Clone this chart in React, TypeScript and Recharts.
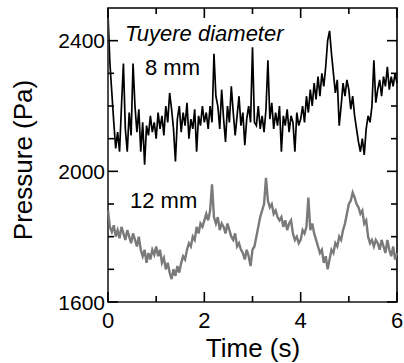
import React from 'react';
import { LineChart, Line, XAxis, YAxis, ReferenceArea } from 'recharts';

const STEP = 0.04;

// tuyere diameter 8 mm, pressure (Pa)
const p8mm = [
  2480, 2330, 2240, 2150, 2070, 2120, 2060, 2200, 2330, 2130,
  2060, 2180, 2110, 2330, 2200, 2120, 2190, 2060, 2150, 2020,
  2140, 2110, 2170, 2120, 2150, 2100, 2180, 2130, 2170, 2110,
  2200, 2150, 2240, 2190, 2130, 2030, 2160, 2200, 2120, 2180,
  2140, 2210, 2100, 2160, 2130, 2190, 2060, 2170, 2140, 2200,
  2150, 2180, 2130, 2200, 2150, 2360, 2230, 2200, 2130, 2250,
  2160, 2090, 2200, 2150, 2260, 2180, 2110, 2170, 2230, 2140,
  2180, 2080, 2160, 2200, 2150, 2380, 2150, 2140, 2200, 2130,
  2170, 2120, 2190, 2340, 2160, 2210, 2130, 2180, 2140, 2200,
  2060, 2170, 2140, 2190, 2120, 2170, 2150, 2060, 2180, 2140,
  2160, 2200, 2150, 2230, 2180, 2250, 2200, 2270, 2220, 2290,
  2230, 2300, 2260, 2320, 2400, 2430, 2360, 2300, 2240, 2280,
  2140, 2200, 2270, 2230, 2280, 2250, 2190, 2230, 2170, 2130,
  2090, 2060, 2100, 2050, 2130, 2170, 2150, 2200, 2340, 2210,
  2250, 2280, 2230, 2290, 2260, 2320, 2250, 2290, 2260, 2300,
  2270,
];

// tuyere diameter 12 mm, pressure (Pa)
const p12mm = [
  1880, 1830, 1815, 1835, 1800, 1820, 1795, 1830, 1810, 1790,
  1820, 1800, 1780, 1810, 1790, 1770, 1800, 1760, 1740, 1760,
  1720, 1750, 1730, 1760, 1745, 1770, 1740, 1760, 1720, 1735,
  1700, 1720, 1690, 1670, 1700, 1680, 1710, 1690, 1720, 1740,
  1730, 1760, 1780, 1770, 1800, 1790, 1830, 1810, 1840, 1830,
  1850, 1870, 1850, 1880, 1960, 1860, 1840, 1860, 1820, 1840,
  1830, 1810, 1840, 1820, 1800, 1790, 1810, 1770, 1780, 1760,
  1750, 1730, 1760, 1740, 1710, 1760, 1770, 1800, 1830, 1860,
  1880, 1900, 1980, 1910, 1890, 1900, 1870, 1880, 1860, 1850,
  1860, 1830, 1850, 1820, 1840, 1850, 1810, 1790, 1800, 1780,
  1790, 1820, 1810, 1830, 1920, 1820, 1840, 1810, 1790, 1770,
  1750, 1760, 1720, 1740, 1700, 1730, 1760, 1750, 1780, 1770,
  1800, 1790, 1820, 1840, 1870, 1900, 1910, 1935, 1920, 1900,
  1890, 1870, 1880, 1840, 1850, 1800, 1780, 1790, 1770, 1790,
  1780, 1760, 1790, 1770, 1750, 1790, 1760, 1740, 1770, 1730,
  1750,
];

const xTicks = [0, 1, 2, 3, 4, 5, 6];
const xLabels = [0, 2, 4, 6];
const yTicks = [1600, 1700, 1800, 1900, 2000, 2100, 2200, 2300, 2400];
const yLabels = [1600, 2000, 2400];

const data = p8mm.map((v, i) => ({ t: Number((i * STEP).toFixed(2)), d8: v, d12: p12mm[i] }));

// plot edges (margin top 8, right 7), used to mirror ticks onto the frame
const PLOT_TOP = 8;
const PLOT_RIGHT = 397;
// default tick margin recharts puts between axis line and tick position
const TM = 2;

const FONT = '"Liberation Sans", Arial, sans-serif';

function BottomTick(props: any) {
  const { x, y, payload } = props;
  const major = xLabels.includes(payload.value);
  const len = major ? 10 : 6;
  const y0 = y - TM;
  return (
    <g>
      <line x1={x} y1={y0} x2={x} y2={y0 - len} stroke="black" strokeWidth={1.6} />
      <line x1={x} y1={PLOT_TOP} x2={x} y2={PLOT_TOP + len} stroke="black" strokeWidth={1.6} />
      {major && (
        <text x={x} y={y0 + 26} textAnchor="middle" fontSize={22} fontFamily={FONT} fill="black">
          {payload.value}
        </text>
      )}
    </g>
  );
}

function LeftTick(props: any) {
  const { x, y, payload } = props;
  const major = yLabels.includes(payload.value);
  const len = major ? 10 : 6;
  const x0 = x + TM;
  return (
    <g>
      <line x1={x0} y1={y} x2={x0 + len} y2={y} stroke="black" strokeWidth={1.6} />
      <line x1={PLOT_RIGHT} y1={y} x2={PLOT_RIGHT - len} y2={y} stroke="black" strokeWidth={1.6} />
      {major && (
        <text x={x0 - 3} y={y + 7.5} textAnchor="end" fontSize={21} fontFamily={FONT} fill="black">
          {payload.value}
        </text>
      )}
    </g>
  );
}

// annotation and axis titles, drawn on an svg laid over the chart
function Annotations() {
  return (
    <svg
      width={404}
      height={363}
      style={{ position: 'absolute', left: 0, top: 0, pointerEvents: 'none' }}
    >
      <text x={125} y={41} fontSize={22} fontStyle="italic" fontFamily={FONT} fill="black">
        Tuyere diameter
      </text>
      <text x={145} y={75} fontSize={22} fontFamily={FONT} fill="black">
        8 mm
      </text>
      <text x={130} y={208} fontSize={22} fontFamily={FONT} fill="black">
        12 mm
      </text>
      <text x={253} y={357} textAnchor="middle" fontSize={26} fontFamily={FONT} fill="black">
        Time (s)
      </text>
      <text x={32} y={160} textAnchor="middle" fontSize={26} fontFamily={FONT} fill="black" transform="rotate(-90, 32, 160)">
        Pressure (Pa)
      </text>
    </svg>
  );
}

export default function App() {
  return (
    <div style={{ position: 'absolute', left: 0, top: 0, width: 404, height: 363, background: '#fff' }}>
      <LineChart width={404} height={363} data={data} margin={{ top: 8, right: 7, bottom: 0, left: 0 }}>
        <XAxis dataKey="t" type="number" domain={[0, 6]} ticks={xTicks} height={61} tickSize={0} tickLine={false} tick={BottomTick} />
        <YAxis type="number" domain={[1600, 2500]} ticks={yTicks} width={108} tickSize={0} tickLine={false} tick={LeftTick} />
        <ReferenceArea x1={0} x2={6} y1={1600} y2={2500} fill="white" fillOpacity={0} stroke="black" strokeWidth={1.6} ifOverflow="visible" />
        <Line type="linear" dataKey="d12" stroke="#7a7a7a" strokeWidth={2.4} dot={false} isAnimationActive={false} />
        <Line type="linear" dataKey="d8" stroke="black" strokeWidth={1.7} dot={false} isAnimationActive={false} />
      </LineChart>
      <Annotations />
    </div>
  );
}
